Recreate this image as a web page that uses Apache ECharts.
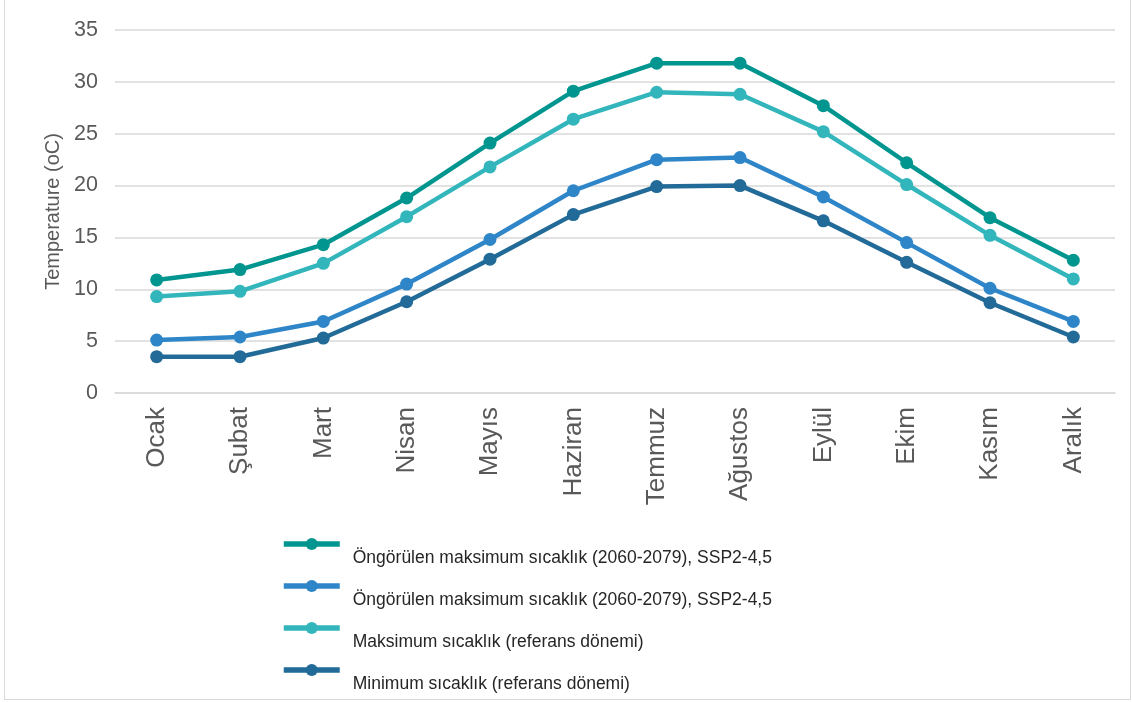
<!DOCTYPE html>
<html>
<head>
<meta charset="utf-8">
<script src="https://cdn.jsdelivr.net/npm/echarts@6/dist/echarts.min.js"></script>
<style>
  html, body { margin: 0; padding: 0; background: #fff; }
  #chart { width: 1127px; height: 700px; border: 1px solid #d9d9d9; border-top: none; margin-left: 4px; box-sizing: border-box; }
</style>
</head>
<body>
<div id="chart"></div>
<script>
var months = ['Ocak', 'Şubat', 'Mart', 'Nisan', 'Mayıs', 'Haziran', 'Temmuz', 'Ağustos', 'Eylül', 'Ekim', 'Kasım', 'Aralık'];
var seriesNames = [
  'Öngörülen maksimum sıcaklık (2060-2079), SSP2-4,5',
  'Öngörülen maksimum sıcaklık (2060-2079), SSP2-4,5 ',
  'Maksimum sıcaklık (referans dönemi)',
  'Minimum sıcaklık (referans dönemi)'
];
var projMax = [10.9, 11.9, 14.3, 18.8, 24.1, 29.1, 31.8, 31.8, 27.7, 22.2, 16.9, 12.8];
var projMin = [5.1, 5.4, 6.9, 10.5, 14.8, 19.5, 22.5, 22.7, 18.9, 14.5, 10.1, 6.9];
var refMax = [9.3, 9.8, 12.5, 17.0, 21.8, 26.4, 29.0, 28.8, 25.2, 20.1, 15.2, 11.0];
var refMin = [3.5, 3.5, 5.3, 8.8, 12.9, 17.2, 19.9, 20.0, 16.6, 12.6, 8.7, 5.4];
var yTicks = [0, 5, 10, 15, 20, 25, 30, 35];

var colors = ['#00968f', '#2e86c9', '#32b6bc', '#226a97'];
var allData = [projMax, projMin, refMax, refMin];

var myChart = echarts.init(document.getElementById('chart'));

var series = [];
for (var i = 0; i < allData.length; i++) {
  series.push({
    name: seriesNames[i],
    type: 'line',
    data: allData[i],
    symbol: 'circle',
    symbolSize: 13,
    lineStyle: { width: 4.5, color: colors[i] },
    itemStyle: { color: colors[i] }
  });
}

myChart.setOption({
  animation: false,
  color: colors,
  textStyle: { fontFamily: 'Liberation Sans, Arial, sans-serif' },
  grid: { left: 110, right: 15, top: 30, bottom: 306 },
  legend: {
    orient: 'vertical',
    left: 271,
    top: 533,
    height: 170,
    itemWidth: 56,
    itemHeight: 15,
    itemGap: 13,
    itemStyle: { borderWidth: 0 },
    lineStyle: { width: 5.5 },
    data: seriesNames,
    formatter: function (name) {
      return '{t|' + name + '}';
    },
    textStyle: {
      rich: {
        t: {
          color: '#262626',
          fontSize: 17.5,
          padding: [28, 0, 0, 8]
        }
      }
    }
  },
  xAxis: {
    type: 'category',
    data: months,
    boundaryGap: true,
    axisLine: { show: true, lineStyle: { color: '#d9d9d9', width: 1.5 } },
    axisTick: { show: false },
    axisLabel: {
      rotate: 90,
      color: '#595959',
      fontSize: 26,
      margin: 14
    }
  },
  yAxis: {
    type: 'value',
    min: yTicks[0],
    max: yTicks[yTicks.length - 1],
    interval: 5,
    name: 'Temperature (oC)',
    nameLocation: 'middle',
    nameGap: 52,
    nameTextStyle: { color: '#595959', fontSize: 20 },
    axisLine: { show: false },
    axisTick: { show: false },
    axisLabel: { color: '#595959', fontSize: 21.5, margin: 17 },
    splitLine: { lineStyle: { color: '#d9d9d9', width: 1.5 } }
  },
  series: series
});
</script>
</body>
</html>
